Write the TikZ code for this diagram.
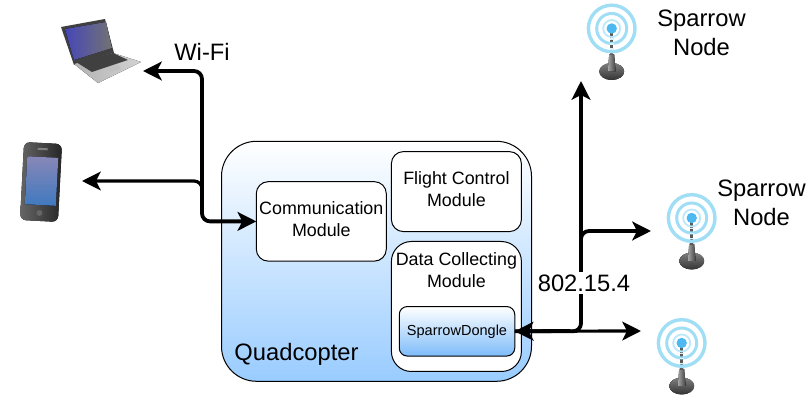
\documentclass[tikz,border=0pt]{standalone}
\usepackage{fontspec}
\setmainfont{Liberation Sans}
\usetikzlibrary{arrows.meta}

\newlength{\px}
\setlength{\px}{0.75pt}

\definecolor{skyblue}{RGB}{153,204,255}
\definecolor{donglebottom}{RGB}{125,188,250}
\definecolor{ringblue}{RGB}{160,222,246}
\definecolor{ballblue}{RGB}{78,184,240}

\tikzset{
	modulebox/.style={draw=black,line width=0.75pt,rounded corners=12\px,fill=white,outer sep=0pt,inner sep=0pt},
	bigtext/.style={align=center,inner sep=0pt,font=\fontsize{17.8}{21.8}\selectfont},
	boxtext/.style={align=center,inner sep=0pt,font=\fontsize{13.4}{16.5}\selectfont},
	nettip/.style={-{Stealth[length=14pt,width=14pt,inset=3.5pt]}},
	netlink/.style={line width=3.8\px,rounded corners=8\px,nettip},
}

% antenna icon, #1 is the centre of the rings
\newcommand{\antennaicon}[1]{
	\begin{scope}[shift={#1}]
		\fill[top color=black!50,bottom color=black!80] (0,43) ellipse (12.5 and 8.5);
		\fill[left color=gray!70,right color=black!75] (-2.5,26) -- (2.5,26) -- (4,43) -- (-4,43) -- cycle;
		\fill[black!65] (-1.6,3) rectangle (1.6,27);
		\draw[ringblue,line width=3.4\px] (0,0) circle (23.3);
		\draw[ringblue,line width=3\px] (0,0) circle (15);
		\draw[ringblue!70,line width=1.8\px] (0,0) circle (8.5);
		\fill[ballblue] (0,0) circle (5.2);
		\foreach \y in {10,15,20}
			\fill[white!60!ringblue] (-1.8,\y) rectangle (1.8,\y+1.2);
	\end{scope}
}

\begin{document}
\begin{tikzpicture}[x=0.75pt,y=-0.75pt]
	\useasboundingbox (0,0) rectangle (807,402);

	% quadcopter and its modules
	\node[modulebox,rounded corners=35\px,top color=white,bottom color=skyblue,
		minimum width=310\px,minimum height=240\px] (quadcopter) at (376.5,261.3) {};
	\node[modulebox,minimum width=130\px,minimum height=79.5\px] (comm) at (321.3,221.4) {};
	\node[boxtext] (commtext) at (321.3,219.5) {Communication\\Module};
	\node[modulebox,minimum width=130\px,minimum height=80\px] (flight) at (456.4,191.6) {};
	\node[boxtext] (flighttext) at (456.4,189) {Flight Control\\Module};
	\node[modulebox,rounded corners=20\px,minimum width=130\px,minimum height=130\px] (data) at (456.4,306.5) {};
	\node[boxtext] (datatext) at (456.4,270) {Data Collecting\\Module};
	\node[modulebox,rounded corners=8\px,top color=white,bottom color=donglebottom,
		minimum width=115.5\px,minimum height=49.5\px,font=\fontsize{10.9}{13}\selectfont] (dongle) at (457,331.3) {SparrowDongle};
	\node[bigtext] (quadtext) at (296.5,354) {Quadcopter};

	% free ends of the links
	\coordinate (laptop) at (143,71);
	\coordinate (phone) at (82,181);
	\coordinate (hub) at (202,198);
	\coordinate (nodeA) at (581,81);
	\coordinate (nodeB) at (651,231);
	\coordinate (nodeC) at (641,331);
	\coordinate (fork) at (581,250);

	% wifi side
	\draw[netlink] (hub) |- (comm.west);
	\draw[netlink] (hub) -- (202,71) -- (laptop);
	\draw[netlink,line width=3.2\px] (hub) -- (202,181) -- (phone);
	\node[bigtext] (wifi) at (202,52) {Wi-Fi};

	% 802.15.4 side
	\draw[netlink] (fork) |- (nodeB);
	\draw[netlink] (dongle.east) -| (nodeA);
	\draw[netlink,line width=3.2\px] (dongle.east) -- (nodeC);
	\draw[nettip,line width=3.8\px] (570,331) -- (dongle.east);
	\node[bigtext,fill=white,inner ysep=3\px,inner xsep=0pt] (zigbee) at (584,283) {802.15.4};

	\antennaicon{(611.7,28.5)}
	\antennaicon{(691.7,218)}
	\antennaicon{(681.7,343)}
	\node[bigtext] (labelA) at (701.5,33) {Sparrow\\Node};
	\node[bigtext] (labelB) at (761.5,203) {Sparrow\\Node};

	% laptop
	\fill[black!75] (61,27) -- (105,19) -- (114,53) -- (74,65) -- cycle;
	\fill[left color=blue!45!gray,right color=black!55] (65,29) -- (106,22) -- (112,48) -- (74,60) -- cycle;
	\fill[left color=gray!60,right color=gray!35] (74,64) -- (113,53) -- (141,62) -- (98,83) -- cycle;
	\fill[black!75] (76,62) -- (113,53) -- (128,60) -- (92,72) -- cycle;
	\fill[gray!50] (106,68) -- (118,65) -- (121,69) -- (110,72) -- cycle;

	% phone
	\begin{scope}[rotate around={-3:(41,182)}]
		\fill[left color=black!60,right color=black!85,rounded corners=6\px] (22,143) rectangle (60,221);
		\fill[top color=blue!25!gray!75,bottom color=cyan!45!blue!50!gray] (26,157) rectangle (57,205);
		\fill[black!60] (41,213) circle (3);
		\fill[gray] (36,148) rectangle (46,150);
	\end{scope}
\end{tikzpicture}
\end{document}
